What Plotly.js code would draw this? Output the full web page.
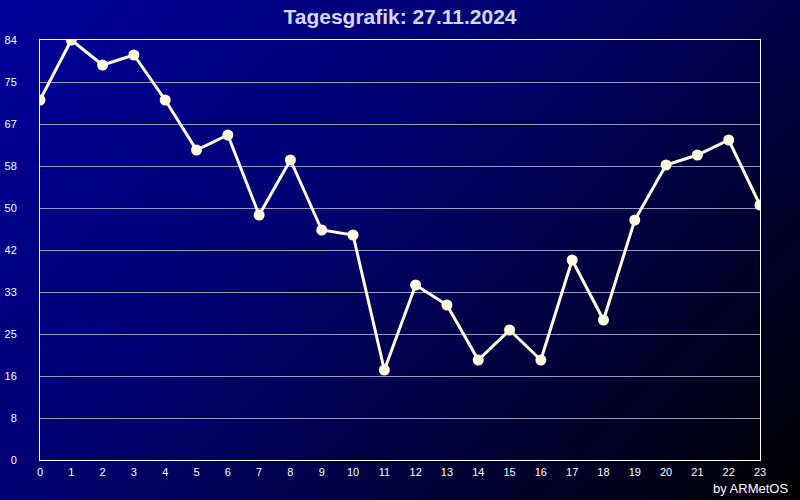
<!DOCTYPE html>
<html>
<head>
<meta charset="utf-8">
<script src="https://cdn.plot.ly/plotly-3.0.1.min.js"></script>
<style>
  html, body { margin: 0; padding: 0; }
  #chart {
    width: 800px; height: 500px;
    background: linear-gradient(135deg, #00009a 0%, #000070 40%, #000030 75%, #000000 100%);
  }
</style>
</head>
<body>
<div id="chart"></div>
<script>
const hours = [0,1,2,3,4,5,6,7,8,9,10,11,12,13,14,15,16,17,18,19,20,21,22,23];
const values = [72,84,79,81,72,62,65,49,60,46,45,18,35,31,20,26,20,40,28,48,59,61,64,51];
const yTickText = ['0','8','16','25','33','42','50','58','67','75','84'];
const yMax = 84;
const titleText = 'Tagesgrafik: 27.11.2024';
const creditText = 'by ARMetOS';

const yTickVals = yTickText.map((_, i) => i * yMax / (yTickText.length - 1));

const trace = {
  x: hours,
  y: values,
  type: 'scatter',
  mode: 'lines+markers',
  line: { color: '#fffbe0', width: 3 },
  marker: { color: '#fffbe0', size: 11 },
  hoverinfo: 'x+y'
};

const layout = {
  width: 800, height: 500,
  margin: { l: 40, r: 40, t: 40, b: 40 },
  paper_bgcolor: 'rgba(0,0,0,0)',
  plot_bgcolor: 'rgba(0,0,0,0)',
  showlegend: false,
  font: { family: 'Liberation Sans, Arial, sans-serif', color: '#ffffff', size: 11 },
  title: {
    text: '<b>' + titleText + '</b>',
    font: { family: 'Liberation Sans, Arial, sans-serif', size: 21, color: '#d4d8ee' },
    x: 0.5, xanchor: 'center',
    y: 1 - 17/500, yanchor: 'middle'
  },
  xaxis: {
    range: [0, 23],
    tickvals: hours,
    ticktext: hours.map(String),
    showgrid: false,
    zeroline: false,
    showline: true, linecolor: '#ffffff', linewidth: 1, mirror: true,
    ticks: '',
    ticklabelstandoff: 2,
    tickfont: { size: 11, color: '#ffffff' },
    fixedrange: true
  },
  yaxis: {
    range: [0, yMax],
    tickvals: yTickVals,
    ticktext: yTickText,
    showgrid: true, gridcolor: '#9a9ab4', gridwidth: 1,
    zeroline: false,
    showline: true, linecolor: '#ffffff', linewidth: 1, mirror: true,
    ticks: '',
    ticklabelstandoff: 20,
    tickfont: { size: 11, color: '#ffffff' },
    fixedrange: true
  },
  annotations: [{
    text: creditText,
    xref: 'paper', yref: 'paper',
    x: (790 - 40) / 720, xanchor: 'right',
    y: -(488 - 460) / 420, yanchor: 'middle',
    showarrow: false,
    font: { family: 'Liberation Sans, Arial, sans-serif', size: 13, color: '#ffffff' }
  }]
};

Plotly.newPlot('chart', [trace], layout, { displayModeBar: false, staticPlot: true });
</script>
</body>
</html>
